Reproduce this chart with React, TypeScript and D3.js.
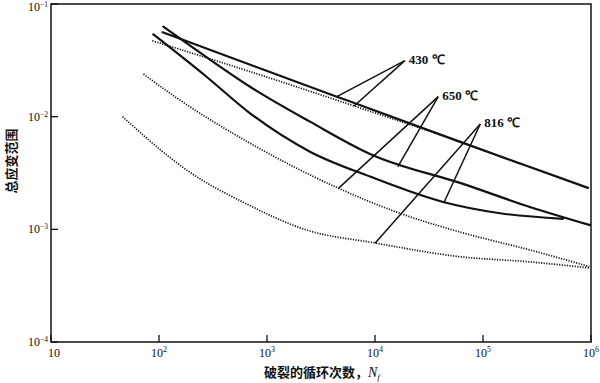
import React from "react";
import * as d3 from "d3";

// Curves: [cycles to failure, total strain range]
const solid430: [number, number][] = [
  [108, 0.0561], [4430, 0.01505], [65300, 0.00585], [9.4e5, 0.00233],
];
const dotted430: [number, number][] = [
  [86.7, 0.0472], [323, 0.0318], [6400, 0.01245], [65300, 0.00585], [2.2e5, 0.0038],
];
const solid650: [number, number][] = [
  [109.6, 0.0629], [277, 0.0336], [697, 0.01845], [2500, 0.00904], [8990, 0.00467],
  [65300, 0.00253], [2.72e5, 0.00158], [9.8e5, 0.00109],
];
const dotted650: [number, number][] = [
  [71.8, 0.0239], [146, 0.01466], [697, 0.00581], [4570, 0.00232], [17700, 0.00137],
  [65300, 0.00093], [2.72e5, 0.000656], [9.67e5, 0.000467],
];
const solid816: [number, number][] = [
  [88.5, 0.0538], [277, 0.0225], [697, 0.01072], [2500, 0.00489], [8990, 0.00294],
  [42700, 0.00175], [1.44e5, 0.00139], [5.5e5, 0.00124],
];
const dotted816: [number, number][] = [
  [45.9, 0.01], [198, 0.00316], [625, 0.00171], [2300, 0.000989], [10000, 0.000757],
  [60000, 0.000573], [2.72e5, 0.000514], [9.57e5, 0.000455],
];

const tempLabels = ["430 ℃", "650 ℃", "816 ℃"];
// leader apex and targets (data coords)
const leaderApex: [number, number][] = [[18900, 0.0314], [38500, 0.01505], [94400, 0.00861]];
const leaderTargets: [number, number][][] = [
  [[4430, 0.01505], [6400, 0.01245]],
  [[4610, 0.00232], [16300, 0.0036]],
  [[10000, 0.000753], [43500, 0.00173]],
];

const xTickExps = [1, 2, 3, 4, 5, 6];
const yTickExps = [-1, -2, -3, -4];
const xTitle = "破裂的循环次数，";
const yTitle = "总应变范围";

const W = 600, H = 383;
const left = 51, right = 591, top = 4, bottom = 342;

export default function App() {
  const x = d3.scaleLog().domain([10, 1e6]).range([left, right]);
  const y = d3.scaleLog().domain([1e-4, 1e-1]).range([bottom, top]);
  const line = d3
    .line<[number, number]>()
    .x((d) => x(d[0]))
    .y((d) => y(d[1]))
    .curve(d3.curveMonotoneX);

  const solids = [solid430, solid650, solid816];
  const dotteds = [dotted430, dotted650, dotted816];
  const serif = "'Liberation Serif', 'Times New Roman', serif";
  const cjk = "'Noto Sans CJK SC', sans-serif";

  return (
    <svg width={W} height={H} style={{ position: "absolute", left: 0, top: 0, background: "#fff" }}>
      <rect x={0} y={0} width={W} height={H} fill="#fff" />
      {/* frame */}
      <rect x={left} y={top} width={right - left} height={bottom - top} fill="none" stroke="#111" strokeWidth={1.5} />
      {/* x ticks */}
      {xTickExps.map((e) => {
        const px = x(Math.pow(10, e));
        return (
          <g key={"x" + e}>
            <line x1={px} x2={px} y1={bottom} y2={bottom - 7} stroke="#111" strokeWidth={1.3} />
            <text x={px + (e === 1 ? 3 : 0)} y={357} textAnchor="middle" fontFamily={serif} fontSize={12} fill="#111">
              10
              {e !== 1 && (
                <tspan dy={-5} fontSize={8}>{e}</tspan>
              )}
            </text>
          </g>
        );
      })}
      {/* y ticks */}
      {yTickExps.map((e) => {
        const py = y(Math.pow(10, e));
        return (
          <g key={"y" + e}>
            <line x1={left} x2={left + 7} y1={py} y2={py} stroke="#111" strokeWidth={1.3} />
            <text x={48} y={Math.max(py + 4, 11)} textAnchor="end" fontFamily={serif} fontSize={12} fill="#111">
              10
              <tspan dy={-4} fontSize={7.5}>{"−" + Math.abs(e)}</tspan>
            </text>
          </g>
        );
      })}
      {/* curves */}
      {dotteds.map((d, i) => (
        <path key={"d" + i} d={line(d) || ""} fill="none" stroke="#111" strokeWidth={1.7} strokeDasharray="1.2,1.4" />
      ))}
      {solids.map((d, i) => (
        <path key={"s" + i} d={line(d) || ""} fill="none" stroke="#111" strokeWidth={2.2} strokeLinecap="round" />
      ))}
      {/* leaders */}
      {leaderApex.map((a, i) => (
        <g key={"l" + i}>
          {leaderTargets[i].map((t, j) => (
            <line key={j} x1={x(a[0])} y1={y(a[1])} x2={x(t[0])} y2={y(t[1])} stroke="#111" strokeWidth={1.5} />
          ))}
          <text x={x(a[0]) + 4} y={y(a[1]) + 3} fontFamily={serif} fontWeight="bold" fontSize={13} fill="#111">
            {tempLabels[i]}
          </text>
        </g>
      ))}
      {/* axis titles */}
      <text x={264} y={377} fontFamily={cjk} fontWeight="bold" fontSize={13} fill="#111">
        {xTitle}
        <tspan fontFamily={serif} fontStyle="italic" fontWeight="normal" fontSize={14}>N</tspan>
        <tspan fontFamily={serif} fontStyle="italic" fontWeight="normal" fontSize={9} dy={3}>f</tspan>
      </text>
      <text
        transform={`translate(16, 161) rotate(-90)`}
        textAnchor="middle"
        fontFamily={cjk}
        fontWeight="bold"
        fontSize={13}
        fill="#111"
      >
        {yTitle}
      </text>
    </svg>
  );
}
